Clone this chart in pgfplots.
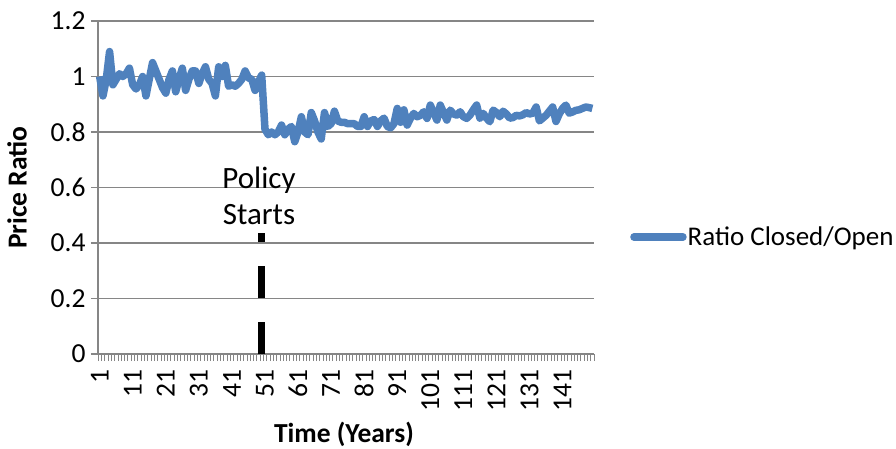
\documentclass[border=0pt]{standalone}
\usepackage{pgfplots}
\pgfplotsset{compat=1.18}
\usepackage{pgfplotstable}
\usepackage{fontspec}
\setmainfont{Carlito}

\definecolor{seriesblue}{RGB}{79,129,189}
\definecolor{gridgray}{RGB}{134,134,134}

% Yearly ratio of closed to open prices
\pgfplotstableread{
x y
1 1.00
2 0.93
3 0.99
4 1.09
5 0.97
6 0.99
7 1.01
8 1.00
9 1.01
10 1.03
11 0.97
12 0.955
13 0.97
14 1.00
15 0.93
16 0.99
17 1.05
18 1.02
19 0.99
20 0.96
21 0.94
22 0.99
23 1.02
24 0.945
25 0.99
26 1.03
27 0.95
28 0.99
29 1.02
30 1.02
31 0.975
32 1.01
33 1.035
34 0.99
35 0.975
36 0.93
37 1.035
38 1.00
39 1.04
40 0.965
41 0.97
42 0.965
43 0.975
44 0.99
45 1.02
46 0.995
47 0.99
48 0.95
49 0.98
50 1.005
51 0.81
52 0.79
53 0.80
54 0.79
55 0.80
56 0.825
57 0.79
58 0.81
59 0.82
60 0.765
61 0.80
62 0.855
63 0.80
64 0.79
65 0.87
66 0.84
67 0.80
68 0.775
69 0.87
70 0.82
71 0.83
72 0.875
73 0.84
74 0.835
75 0.835
76 0.83
77 0.83
78 0.83
79 0.82
80 0.82
81 0.855
82 0.82
83 0.84
84 0.845
85 0.82
86 0.84
87 0.85
88 0.82
89 0.815
90 0.83
91 0.885
92 0.835
93 0.88
94 0.825
95 0.85
96 0.867
97 0.855
98 0.86
99 0.873
100 0.849
101 0.897
102 0.87
103 0.843
104 0.897
105 0.87
106 0.843
107 0.879
108 0.865
109 0.861
110 0.873
111 0.855
112 0.849
113 0.861
114 0.88
115 0.897
116 0.85
117 0.867
118 0.85
119 0.837
120 0.879
121 0.87
122 0.855
123 0.875
124 0.865
125 0.85
126 0.852
127 0.86
128 0.858
129 0.862
130 0.87
131 0.865
132 0.868
133 0.89
134 0.84
135 0.85
136 0.86
137 0.875
138 0.89
139 0.838
140 0.865
141 0.885
142 0.897
143 0.868
144 0.872
145 0.878
146 0.88
147 0.885
148 0.89
149 0.888
150 0.885
}\ratiodata

\begin{document}
\begin{tikzpicture}
\path[use as bounding box] (0,0) rectangle (896pt,448pt);
\begin{axis}[
  at={(98pt,94pt)}, anchor=south west,
  scale only axis, width=496pt, height=333pt,
  xmin=0.5, xmax=150.5, ymin=0, ymax=1.2,
  axis lines=left,
  axis line style={-, draw=gridgray, line width=1.5pt},
  font=\fontsize{27.5}{32}\selectfont,
  /pgf/number format/assume math mode=true,
  xtick={1,11,...,141},
  xticklabels={1,11,21,31,41,51,61,71,81,91,101,111,121,131,141},
  x tick label style={rotate=90, anchor=east, xshift=-5pt},
  minor xtick={0.5,1.5,...,150.5},
  major x tick style={draw=none},
  minor x tick style={draw=gridgray, line width=0.6pt},
  minor tick length=7pt,
  ytick={0,0.2,0.4,0.6,0.8,1,1.2},
  yticklabels={0,0.2,0.4,0.6,0.8,1,1.2},
  y tick label style={anchor=east, xshift=-2pt},
  ytick style={draw=gridgray, line width=1.5pt},
  major tick length=7pt, tick align=outside,
  ymajorgrids, grid style={draw=gridgray, line width=1.5pt},
  xlabel={\bfseries Time (Years)},
  xlabel style={at={(axis description cs:0.496,-0.240)}, anchor=center},
  ylabel={\bfseries Price Ratio},
  ylabel style={at={(axis description cs:-0.163,0.5)}, anchor=center},
  legend style={draw=none, fill=none, at={(1,0.351)}, anchor=west, xshift=36pt,
    font=\fontsize{27}{32}\selectfont, inner sep=0pt,
    nodes={inner sep=1pt}},
  legend cell align=left,
  legend image code/.code={\draw[#1, line cap=round] (0pt,0pt) -- (49pt,0pt);},
  clip=false,
]
\addplot[black, line width=7pt, dash pattern=on 32pt off 24pt, forget plot]
  coordinates {(50,0) (50,0.436)};
\addplot[seriesblue, line width=7.5pt, line join=round, mark=none]
  table[x=x, y=y] {\ratiodata};
\addlegendentry{Ratio Closed/Open}
\node[align=center, font=\fontsize{31}{36}\selectfont] at (axis cs:49.2,0.569) {Policy\\Starts};
\end{axis}
\end{tikzpicture}
\end{document}
